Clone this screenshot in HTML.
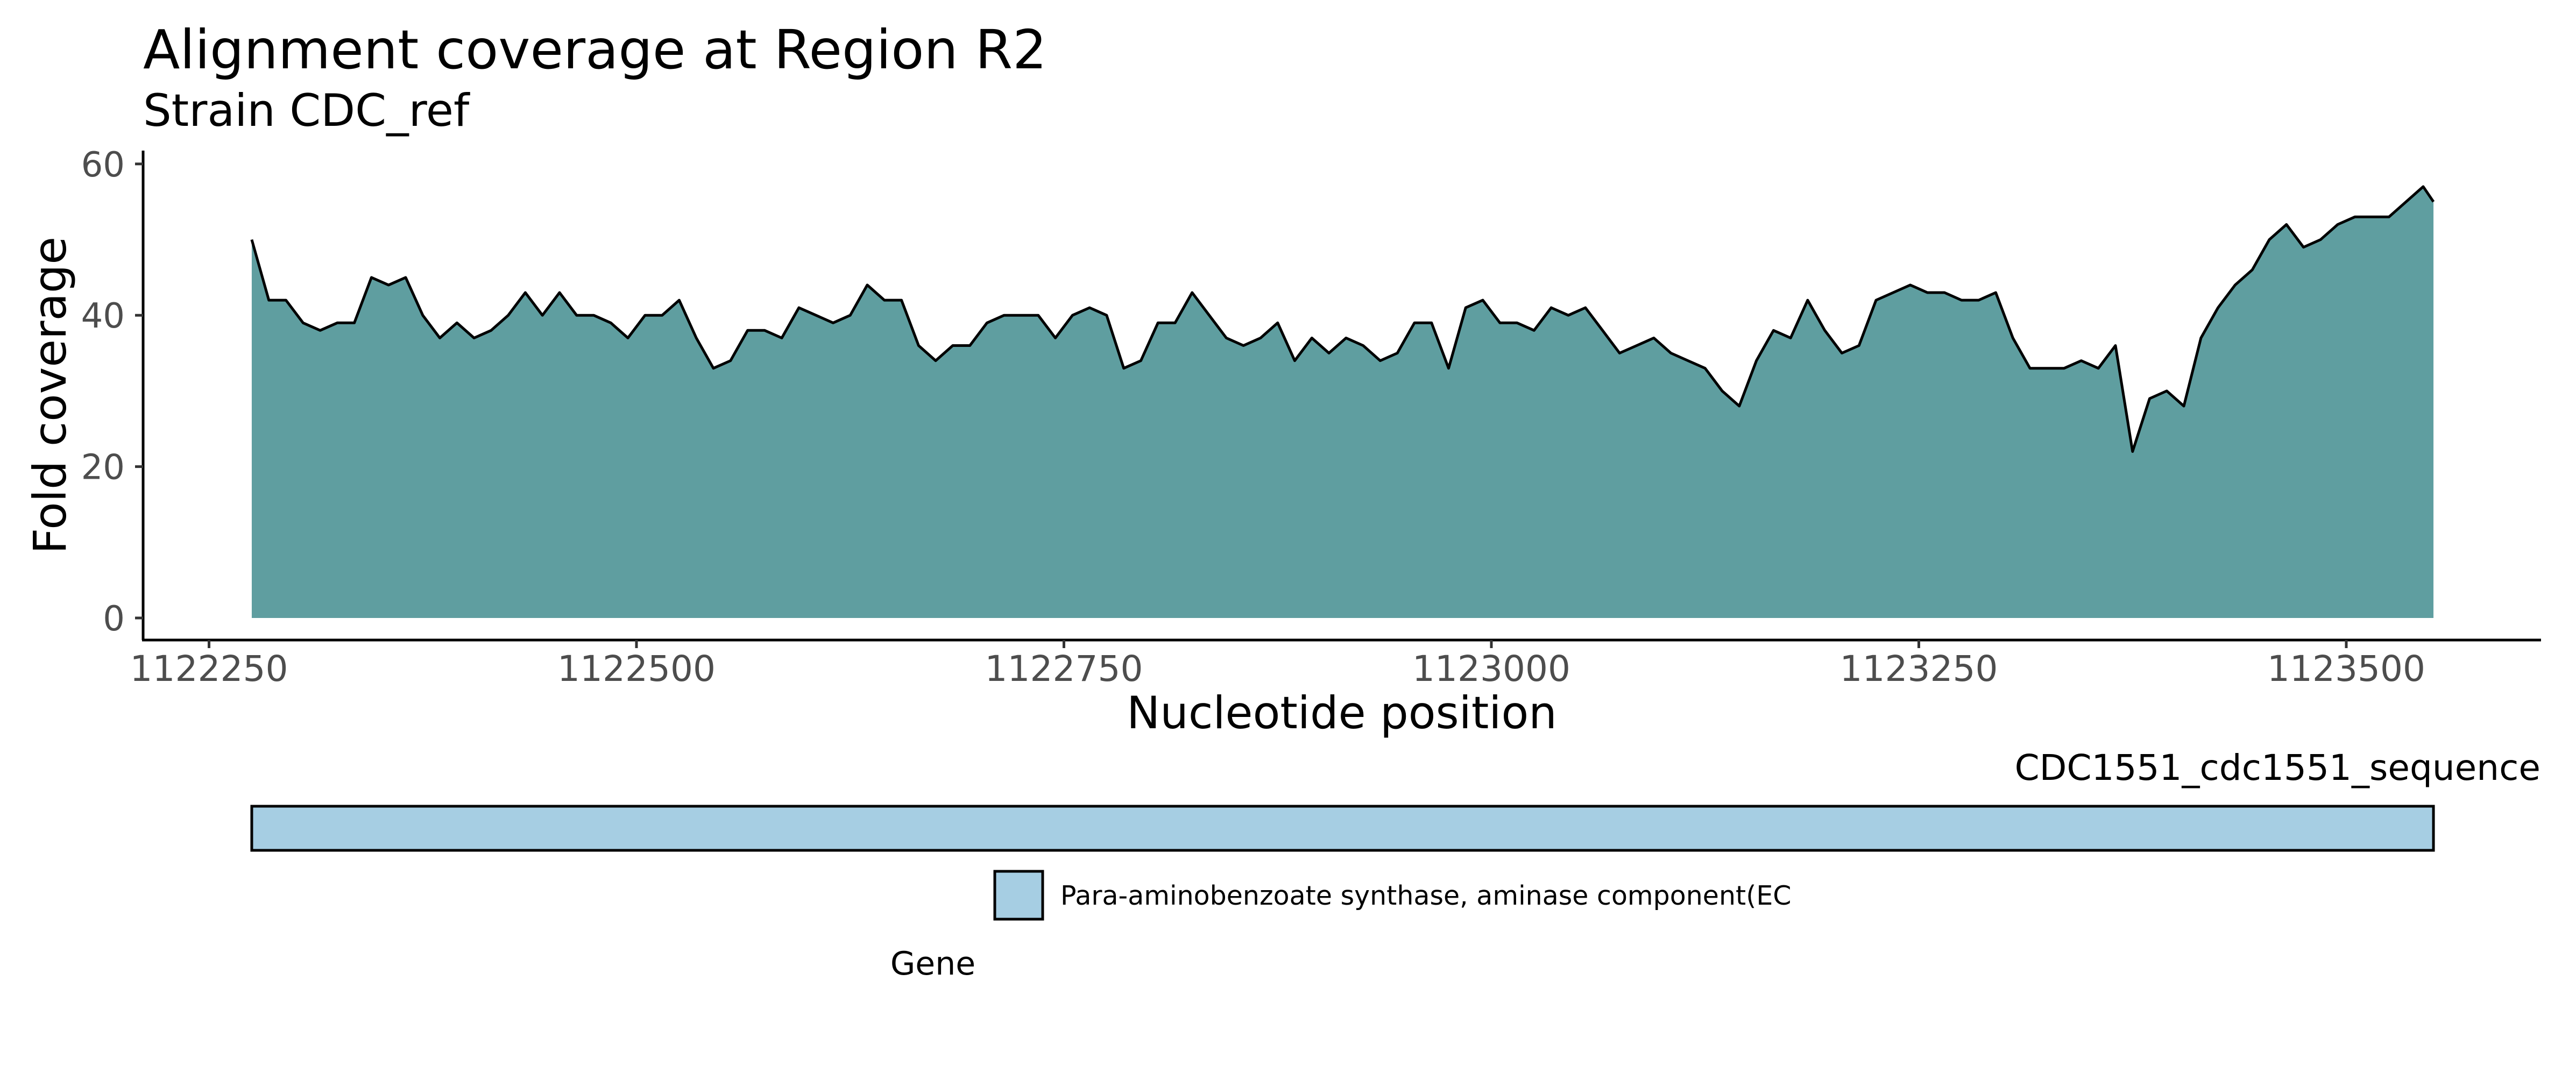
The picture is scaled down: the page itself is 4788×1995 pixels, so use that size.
<!DOCTYPE html>
<html><head><meta charset="utf-8"><style>
html,body{margin:0;padding:0;background:#fff;}
svg{display:block;font-family:"DejaVu Sans","Liberation Sans",sans-serif;}
</style></head><body>
<svg id="chart" width="4788" height="1995" viewBox="0 0 4788 1995" xmlns="http://www.w3.org/2000/svg">
<rect width="4788" height="1995" fill="#fff"/>
<text x="266" y="127" font-size="100" fill="#000">Alignment coverage at Region R2</text>
<text x="266" y="234" font-size="83" fill="#000">Strain CDC_ref</text>
<g id="plot"></g>
<g id="axes"></g>
<text x="2494" y="1354" font-size="83" text-anchor="middle" fill="#000">Nucleotide position</text>
<text transform="translate(122,735) rotate(-90)" font-size="84" text-anchor="middle" fill="#000">Fold coverage</text>
<text x="4722" y="1450" font-size="66" text-anchor="end" fill="#000">CDC1551_cdc1551_sequence</text>
<g id="genes"></g>
<rect x="1849" y="1620" width="89" height="89" fill="#a6cee3" stroke="#000" stroke-width="5"/>
<text x="1971" y="1682" font-size="49" fill="#000">Para-aminobenzoate synthase, aminase component(EC</text>
<text x="1734" y="1812" font-size="60" text-anchor="middle" fill="#000">Gene</text>
</svg>
<script>
const startPos = 1122275;
const stepNt = 10;
const endPos = 1123551;
const coverage = [50,42,42,39,38,39,39,45,44,45,40,37,39,37,38,40,43,40,43,40,40,39,37,40,40,42,37,33,34,38,38,37,41,
40,39,40,44,42,42,36,34,36,36,39,40,40,40,37,40,41,40,33,34,39,39,43,40,37,36,37,39,34,37,35,37,
36,34,35,39,39,33,41,42,39,39,38,41,40,41,38,35,36,37,35,34,33,30,28,34,38,37,42,38,35,36,42,43,44,
43,43,42,42,43,37,33,33,33,34,33,36,22,29,30,28,37,41,44,46,50,52,49,50,52,53,53,53,55,57,55];
const yTicks = [0,20,40,60];
const xTicks = [1122250,1122500,1122750,1123000,1123250,1123500];
const geneStart = [1122275];
const geneEnd = [1123551];

const NS='http://www.w3.org/2000/svg';
function xs(nt){return 388.5+(nt-1122250)*3.178;}
function ys(v){return 1149-v*14.07;}
function mk(tag,attrs,parent){const e=document.createElementNS(NS,tag);for(const k in attrs)e.setAttribute(k,attrs[k]);parent.appendChild(e);return e;}
const plot=document.getElementById('plot'), axes=document.getElementById('axes'), genes=document.getElementById('genes');
const pts=coverage.map((v,i)=>[xs(Math.min(startPos+i*stepNt,endPos)),ys(v)]);
pts.push([xs(endPos),ys(coverage[coverage.length-1])]);
let d='M'+pts[0][0]+','+ys(0);
pts.forEach(p=>{d+=' L'+p[0].toFixed(1)+','+p[1].toFixed(1);});
d+=' L'+pts[pts.length-1][0]+','+ys(0)+' Z';
const area=mk('path',{d:d,fill:'#5F9EA0'},plot);


const line=mk('path',{d:'M'+pts.map(p=>p[0].toFixed(1)+','+p[1].toFixed(1)).join(' L'),fill:'none',stroke:'#000','stroke-width':5,'stroke-linejoin':'round'},plot);


const yl=mk('line',{x1:266,y1:280,x2:266,y2:1190,stroke:'#000','stroke-width':5},axes);


const xl=mk('line',{x1:264,y1:1190,x2:4723,y2:1190,stroke:'#000','stroke-width':5},axes);


yTicks.forEach(t=>{
  const tk=mk('line',{x1:251,y1:ys(t),x2:266,y2:ys(t),stroke:'#333','stroke-width':5},axes);
  
  
  const tl=mk('text',{x:232,y:ys(t)+23,'font-size':64,'text-anchor':'end',fill:'#4d4d4d'},axes);
  tl.textContent=t;
  
  
});
xTicks.forEach(t=>{
  const tk=mk('line',{x1:xs(t),y1:1190,x2:xs(t),y2:1205,stroke:'#333','stroke-width':5},axes);
  
  
  const tl=mk('text',{x:xs(t),y:1266,'font-size':66,'text-anchor':'middle',fill:'#4d4d4d'},axes);
  tl.textContent=t;
  
  
});
geneStart.forEach((s,i)=>{
  const g=mk('rect',{x:xs(s),y:1499,width:xs(geneEnd[i])-xs(s),height:82,fill:'#a6cee3',stroke:'#000','stroke-width':5},genes);
  
  
});
</script>
</body></html>
